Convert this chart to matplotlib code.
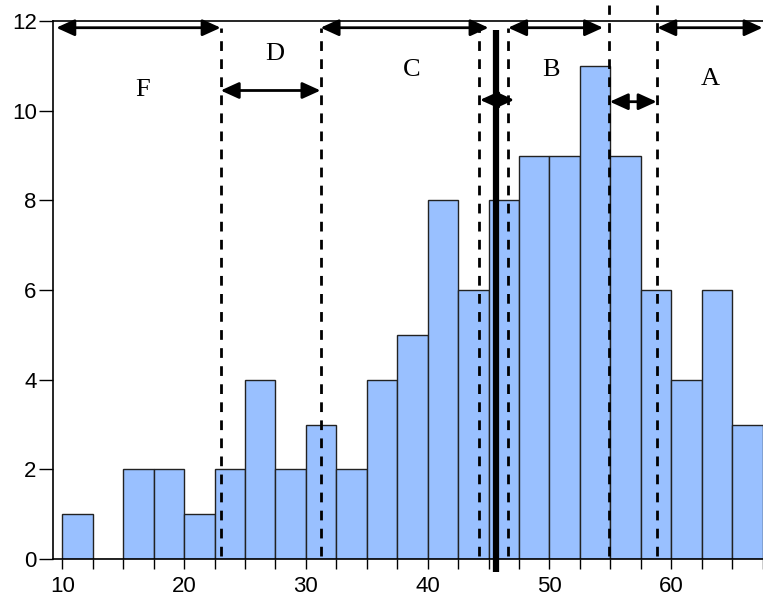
import matplotlib.pyplot as plt
import numpy as np

# histogram data: bins of width 2.5 starting at 10
bin_left = np.arange(10, 67.5, 2.5)
counts = [1, 0, 2, 2, 1, 2, 4, 2, 3, 2, 4, 5, 8, 6, 8, 9, 9, 11, 9, 6, 4, 6, 3]

# grade cut-offs (dashed) and the mean (thick line)
cut_short = [23.0, 31.2, 44.2, 46.6]
cut_tall = [54.9, 58.85]
mean_x = 45.6

grade_labels = ['F', 'D', 'C', 'B', 'A']
label_x = [16.6, 27.4, 38.7, 50.1, 63.2]
label_y = [10.45, 11.27, 10.9, 10.9, 10.7]

# arrows as (x_start, x_end, y)
arrows = [(9.5, 23.0, 11.85), (23.0, 31.2, 10.45), (31.2, 45.0, 11.85),
          (46.6, 54.4, 11.85), (58.85, 67.5, 11.85),
          (44.3, 47.1, 10.24), (54.95, 58.8, 10.2)]

plt.rcParams['font.family'] = ['Liberation Sans', 'DejaVu Sans']
fig = plt.figure(figsize=(7.63, 6), dpi=100)
ax = fig.add_axes([0.0699, 0.0683, 0.9296, 0.8967])

ax.bar(bin_left, counts, width=2.5, align='edge', color='#99c0ff',
       edgecolor='#222222', linewidth=1, zorder=2)

ax.set_xlim(9.26, 67.5)
ax.set_ylim(0, 12)
ax.set_yticks(range(0, 13, 2))
ax.set_xticks(np.arange(10, 67.6, 2.5))
ax.set_xticklabels([str(int(v)) if v % 10 == 0 else '' for v in np.arange(10, 67.6, 2.5)])
ax.tick_params(axis='y', length=10, width=1, labelsize=16, pad=2)
ax.tick_params(axis='x', length=7, width=1, labelsize=16, pad=5)
for s in ax.spines.values():
    s.set_linewidth(1.2)
ax.spines['right'].set_visible(False)

for x in cut_short:
    ax.plot([x, x], [0.07, 11.84], color='black', lw=2, dashes=(3.5, 3), zorder=4)
for x in cut_tall:
    ax.plot([x, x], [0.07, 12.36], color='black', lw=2, dashes=(3.5, 3),
            zorder=4, clip_on=False)
ax.plot([mean_x, mean_x], [-0.28, 11.8], color='black', lw=4.5, zorder=5,
        clip_on=False, solid_capstyle='butt')

for x0, x1, y in arrows:
    ax.annotate('', xy=(x1, y), xytext=(x0, y),
                arrowprops=dict(arrowstyle='<|-|>,head_length=0.55,head_width=0.25',
                                mutation_scale=20, lw=2, color='black',
                                shrinkA=0, shrinkB=0), zorder=6)

for t, x, y in zip(grade_labels, label_x, label_y):
    ax.text(x, y, t, ha='center', va='center', fontsize=19,
            family='Liberation Serif')

fig.savefig('out.png', dpi=100)
